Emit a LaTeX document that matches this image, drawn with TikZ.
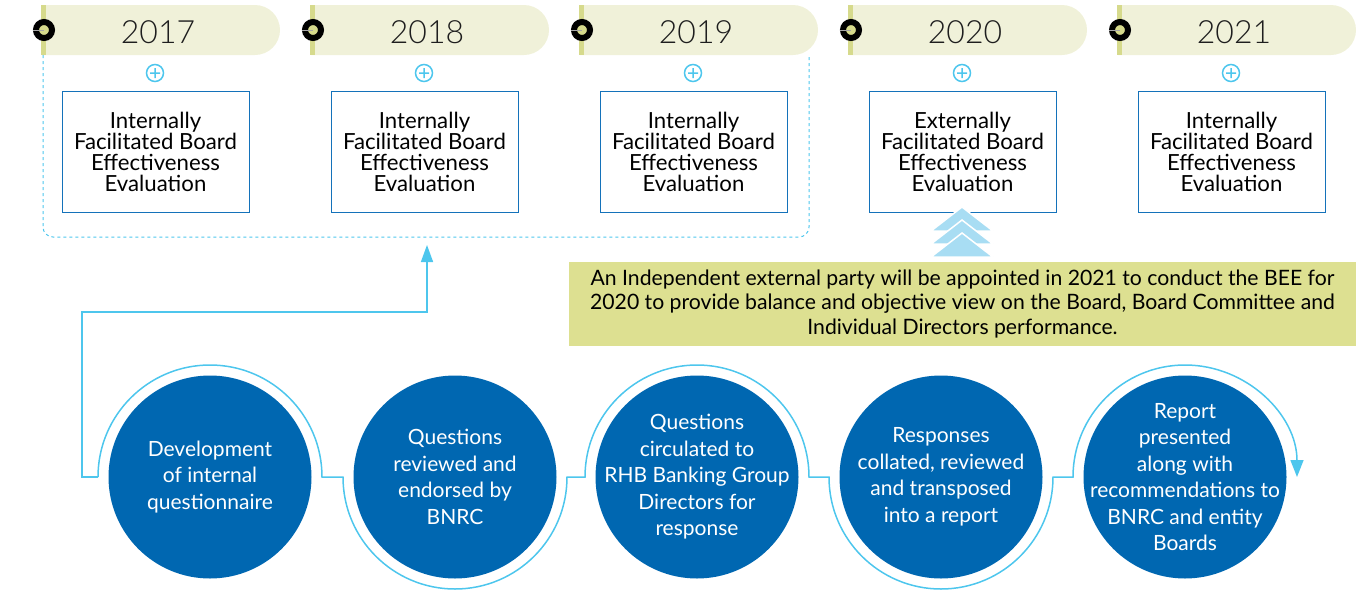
\documentclass[tikz,border=0pt]{standalone}
\usepackage{fontspec}
\setmainfont{Lato}
\newfontfamily\yearfont{Lato Light}
\usetikzlibrary{arrows.meta}
\definecolor{stepblue}{RGB}{0,103,177}
\definecolor{ringblue}{RGB}{77,198,237}
\definecolor{boxblue}{RGB}{20,114,186}
\definecolor{tabfill}{RGB}{240,241,217}
\definecolor{tabbar}{RGB}{214,218,140}
\definecolor{notefill}{RGB}{221,224,145}
\definecolor{chevronblue}{RGB}{168,221,243}
\definecolor{yeargrey}{RGB}{30,30,30}

\begin{document}
\begin{tikzpicture}[x=1pt,y=-1pt,
  yearlabel/.style={anchor=center,inner sep=0pt,text=yeargrey,font=\yearfont\fontsize{32}{38}\selectfont},
  yearicon/.style={draw=black,line width=6pt,fill=tabbar},
  plusicon/.style={draw=ringblue,line width=1.5pt},
  evalbox/.style={draw=boxblue,line width=1pt,fill=white,minimum width=187pt,minimum height=121pt,inner sep=0pt,align=center,font=\fontsize{22.2}{21}\selectfont},
  stepcircle/.style={circle,fill=stepblue,text=white,minimum size=203pt,inner sep=-30pt,align=center,font=\fontsize{21}{26.5}\selectfont},
  ringline/.style={draw=ringblue,line width=1.5pt},
  notebox/.style={fill=notefill,minimum width=787pt,minimum height=84pt,inner sep=0pt,align=center,font=\fontsize{21.2}{24.7}\selectfont},
  chevron/.style={fill=chevronblue,draw=white,line width=1.5pt}]
\path[use as bounding box] (0,0) rectangle (1358,592);
\fill[tabfill] (42,5) -- (255,5) arc[start angle=-90,end angle=90,radius=25] -- (42,55) -- cycle;
\fill[tabfill] (311,5) -- (524,5) arc[start angle=-90,end angle=90,radius=25] -- (311,55) -- cycle;
\fill[tabfill] (580,5) -- (793,5) arc[start angle=-90,end angle=90,radius=25] -- (580,55) -- cycle;
\fill[tabfill] (849,5) -- (1062,5) arc[start angle=-90,end angle=90,radius=25] -- (849,55) -- cycle;
\fill[tabfill] (1118,5) -- (1331,5) arc[start angle=-90,end angle=90,radius=25] -- (1118,55) -- cycle;
\fill[tabbar] (41,5) rectangle (46,55);
\fill[tabbar] (310,5) rectangle (315,55);
\fill[tabbar] (579,5) rectangle (584,55);
\fill[tabbar] (848,5) rectangle (853,55);
\fill[tabbar] (1117,5) rectangle (1122,55);
\draw[yearicon] (44,30) circle (8);
\draw[yearicon] (313,30) circle (8);
\draw[yearicon] (582,30) circle (8);
\draw[yearicon] (851,30) circle (8);
\draw[yearicon] (1120,30) circle (8);
\draw[gray!70,line width=0.6pt] (33,30) -- (44,30) (302,30) -- (313,30) (571,30) -- (582,30) (840,30) -- (851,30) (1109,30) -- (1120,30);
\node[yearlabel] (y2017) at (158,32) {2017};
\node[yearlabel] (y2018) at (427,32) {2018};
\node[yearlabel] (y2019) at (696,32) {2019};
\node[yearlabel] (y2020) at (965,32) {2020};
\node[yearlabel] (y2021) at (1234,32) {2021};
\draw[plusicon] (155,73) circle (8.5) (150,73) -- (160,73) (155,68) -- (155,78);
\draw[plusicon] (424,73) circle (8.5) (419,73) -- (429,73) (424,68) -- (424,78);
\draw[plusicon] (693,73) circle (8.5) (688,73) -- (698,73) (693,68) -- (693,78);
\draw[plusicon] (962,73) circle (8.5) (957,73) -- (967,73) (962,68) -- (962,78);
\draw[plusicon] (1231,73) circle (8.5) (1226,73) -- (1236,73) (1231,68) -- (1231,78);
\draw[draw=ringblue,line width=1pt,dash pattern=on 3pt off 3pt,rounded corners=10pt] (43,55) -- (43,237) -- (809,237) -- (809,55);
\node[evalbox] (e2017) at (155.5,151.5) {Internally\\Facilitated Board\\Effectiveness\\Evaluation};
\node[evalbox] (e2018) at (424.5,151.5) {Internally\\Facilitated Board\\Effectiveness\\Evaluation};
\node[evalbox] (e2019) at (693.5,151.5) {Internally\\Facilitated Board\\Effectiveness\\Evaluation};
\node[evalbox] (e2020) at (962.5,151.5) {Externally\\Facilitated Board\\Effectiveness\\Evaluation};
\node[evalbox] (e2021) at (1231.5,151.5) {Internally\\Facilitated Board\\Effectiveness\\Evaluation};
\path[chevron] (962,207) -- (993,231) -- (931,231) -- cycle;
\path[chevron] (962,220) -- (993,244) -- (931,244) -- cycle;
\path[chevron] (962,233) -- (993,257) -- (931,257) -- cycle;
\node[notebox] (note) at (962.5,304) {An Independent external party will be appointed in 2021 to conduct the BEE for\\2020 to provide balance and objective view on the Board, Board Committee and\\Individual Directors performance.};
\coordinate (r1w) at (98,477);
\coordinate (bee) at (427,245);
\draw[ringline,-{Triangle[width=12pt,length=17pt]}] (r1w) -- (82,477) |- (427,312) -- (bee);
\draw[ringline,-{Triangle[width=13pt,length=17pt]}] (r1w) arc[start angle=180,end angle=360,radius=112] -- ++(21,0)
  arc[start angle=180,end angle=0,radius=112] -- ++(18,0)
  arc[start angle=180,end angle=360,radius=112] -- ++(20,0)
  arc[start angle=180,end angle=0,radius=112] -- ++(20,0)
  arc[start angle=180,end angle=360,radius=112];
\node[stepcircle] (c1) at (210,477) {Development\\of internal\\questionnaire};
\node[stepcircle] (c2) at (455,477) {Questions\\reviewed and\\endorsed by\\BNRC};
\node[stepcircle] (c3) at (697,477) {Questions\\circulated to\\RHB Banking Group\\Directors for\\response};
\node[stepcircle] (c4) at (941,477) {Responses\\collated, reviewed\\and transposed\\into a report};
\node[stepcircle] (c5) at (1185,477) {Report\\presented\\along with\\recommendations to\\BNRC and entity\\Boards};
\end{tikzpicture}
\end{document}
